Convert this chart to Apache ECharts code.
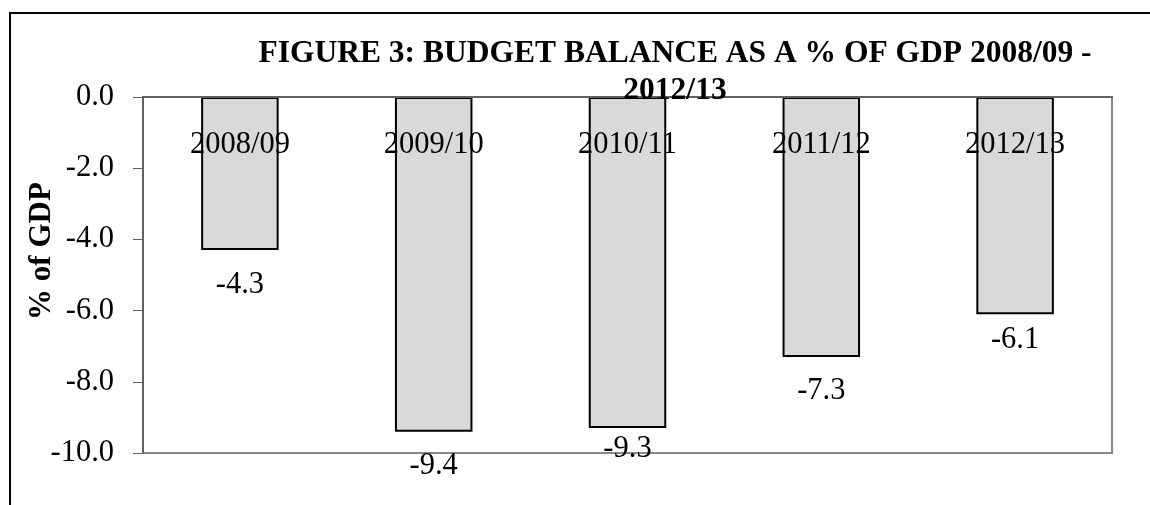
<!DOCTYPE html>
<html>
<head>
<meta charset="utf-8">
<script src="https://cdn.jsdelivr.net/npm/echarts@6/dist/echarts.min.js"></script>
<style>
    html, body { margin: 0; padding: 0; background: #fff; }
    #frame {
        position: absolute; left: 9px; top: 12px; width: 1200px; height: 600px;
        border-left: 2px solid #000; border-top: 2px solid #000;
    }
    #chart { position: absolute; left: 0; top: 0; width: 1150px; height: 505px; }
</style>
</head>
<body>
<div id="frame"></div>
<div id="chart"></div>
<script>
let fontFamily = "'Liberation Serif', 'Times New Roman', serif";

let years = ['2008/09', '2009/10', '2010/11', '2011/12', '2012/13'];
let balance = [-4.3, -9.4, -9.3, -7.3, -6.1];

let chart = echarts.init(document.getElementById('chart'));

// a couple of labels sit closer to their bars than the others
let labelNudge = {2: 5, 4: 10};
let barData = balance.map(function (v, i) {
    let item = {value: v};
    if (labelNudge[i] !== undefined) {
        item.label = {distance: labelNudge[i]};
    }
    return item;
});

let option = {
    animation: false,
    backgroundColor: 'transparent',
    title: {
        text: 'FIGURE 3: BUDGET BALANCE AS A % OF GDP 2008/09 -\n2012/13',
        left: 675,
        top: 35,
        textAlign: 'center',
        padding: 0,
        z: 10,
        textStyle: {
            fontFamily: fontFamily,
            fontWeight: 'bold',
            fontSize: 31.5,
            lineHeight: 37,
            color: '#000'
        }
    },
    grid: {
        left: 143,
        right: 38,
        top: 97,
        bottom: 52,
        show: true,
        borderColor: '#888',
        borderWidth: 2,
        containLabel: false
    },
    xAxis: {
        type: 'category',
        data: years,
        position: 'top',
        z: 5,
        axisLine: {
            onZero: false,
            lineStyle: {color: '#606060', width: 2}
        },
        axisTick: {
            inside: true,
            length: 9,
            lineStyle: {color: '#606060', width: 1}
        },
        axisLabel: {
            inside: true,
            margin: 32,
            fontFamily: fontFamily,
            fontSize: 30.5,
            color: '#000'
        },
        splitLine: {show: false}
    },
    yAxis: {
        type: 'value',
        min: -10,
        max: 0,
        interval: 2,
        name: '% of GDP',
        nameLocation: 'middle',
        nameGap: 86,
        nameMoveOverlap: false,
        nameTextStyle: {
            fontFamily: fontFamily,
            fontWeight: 'bold',
            fontSize: 31,
            color: '#000',
            padding: [0, 0, 0, 48]
        },
        axisLine: {
            show: true,
            lineStyle: {color: '#606060', width: 2}
        },
        axisTick: {
            show: true,
            length: 10,
            lineStyle: {color: '#606060', width: 1}
        },
        axisLabel: {
            margin: 29,
            fontFamily: fontFamily,
            fontSize: 30.5,
            color: '#000',
            formatter: function (v) {
                return v.toFixed(1);
            }
        },
        splitLine: {show: false}
    },
    series: [
        {
            type: 'bar',
            data: barData,
            barWidth: '40%',
            itemStyle: {
                color: '#d9d9d9',
                borderColor: '#000',
                borderWidth: 2
            },
            label: {
                show: true,
                position: 'bottom',
                distance: 19,
                fontFamily: fontFamily,
                fontSize: 30.5,
                color: '#000',
                formatter: function (p) {
                    return p.value.toFixed(1);
                }
            }
        }
    ]
};

chart.setOption(option);
</script>
</body>
</html>
